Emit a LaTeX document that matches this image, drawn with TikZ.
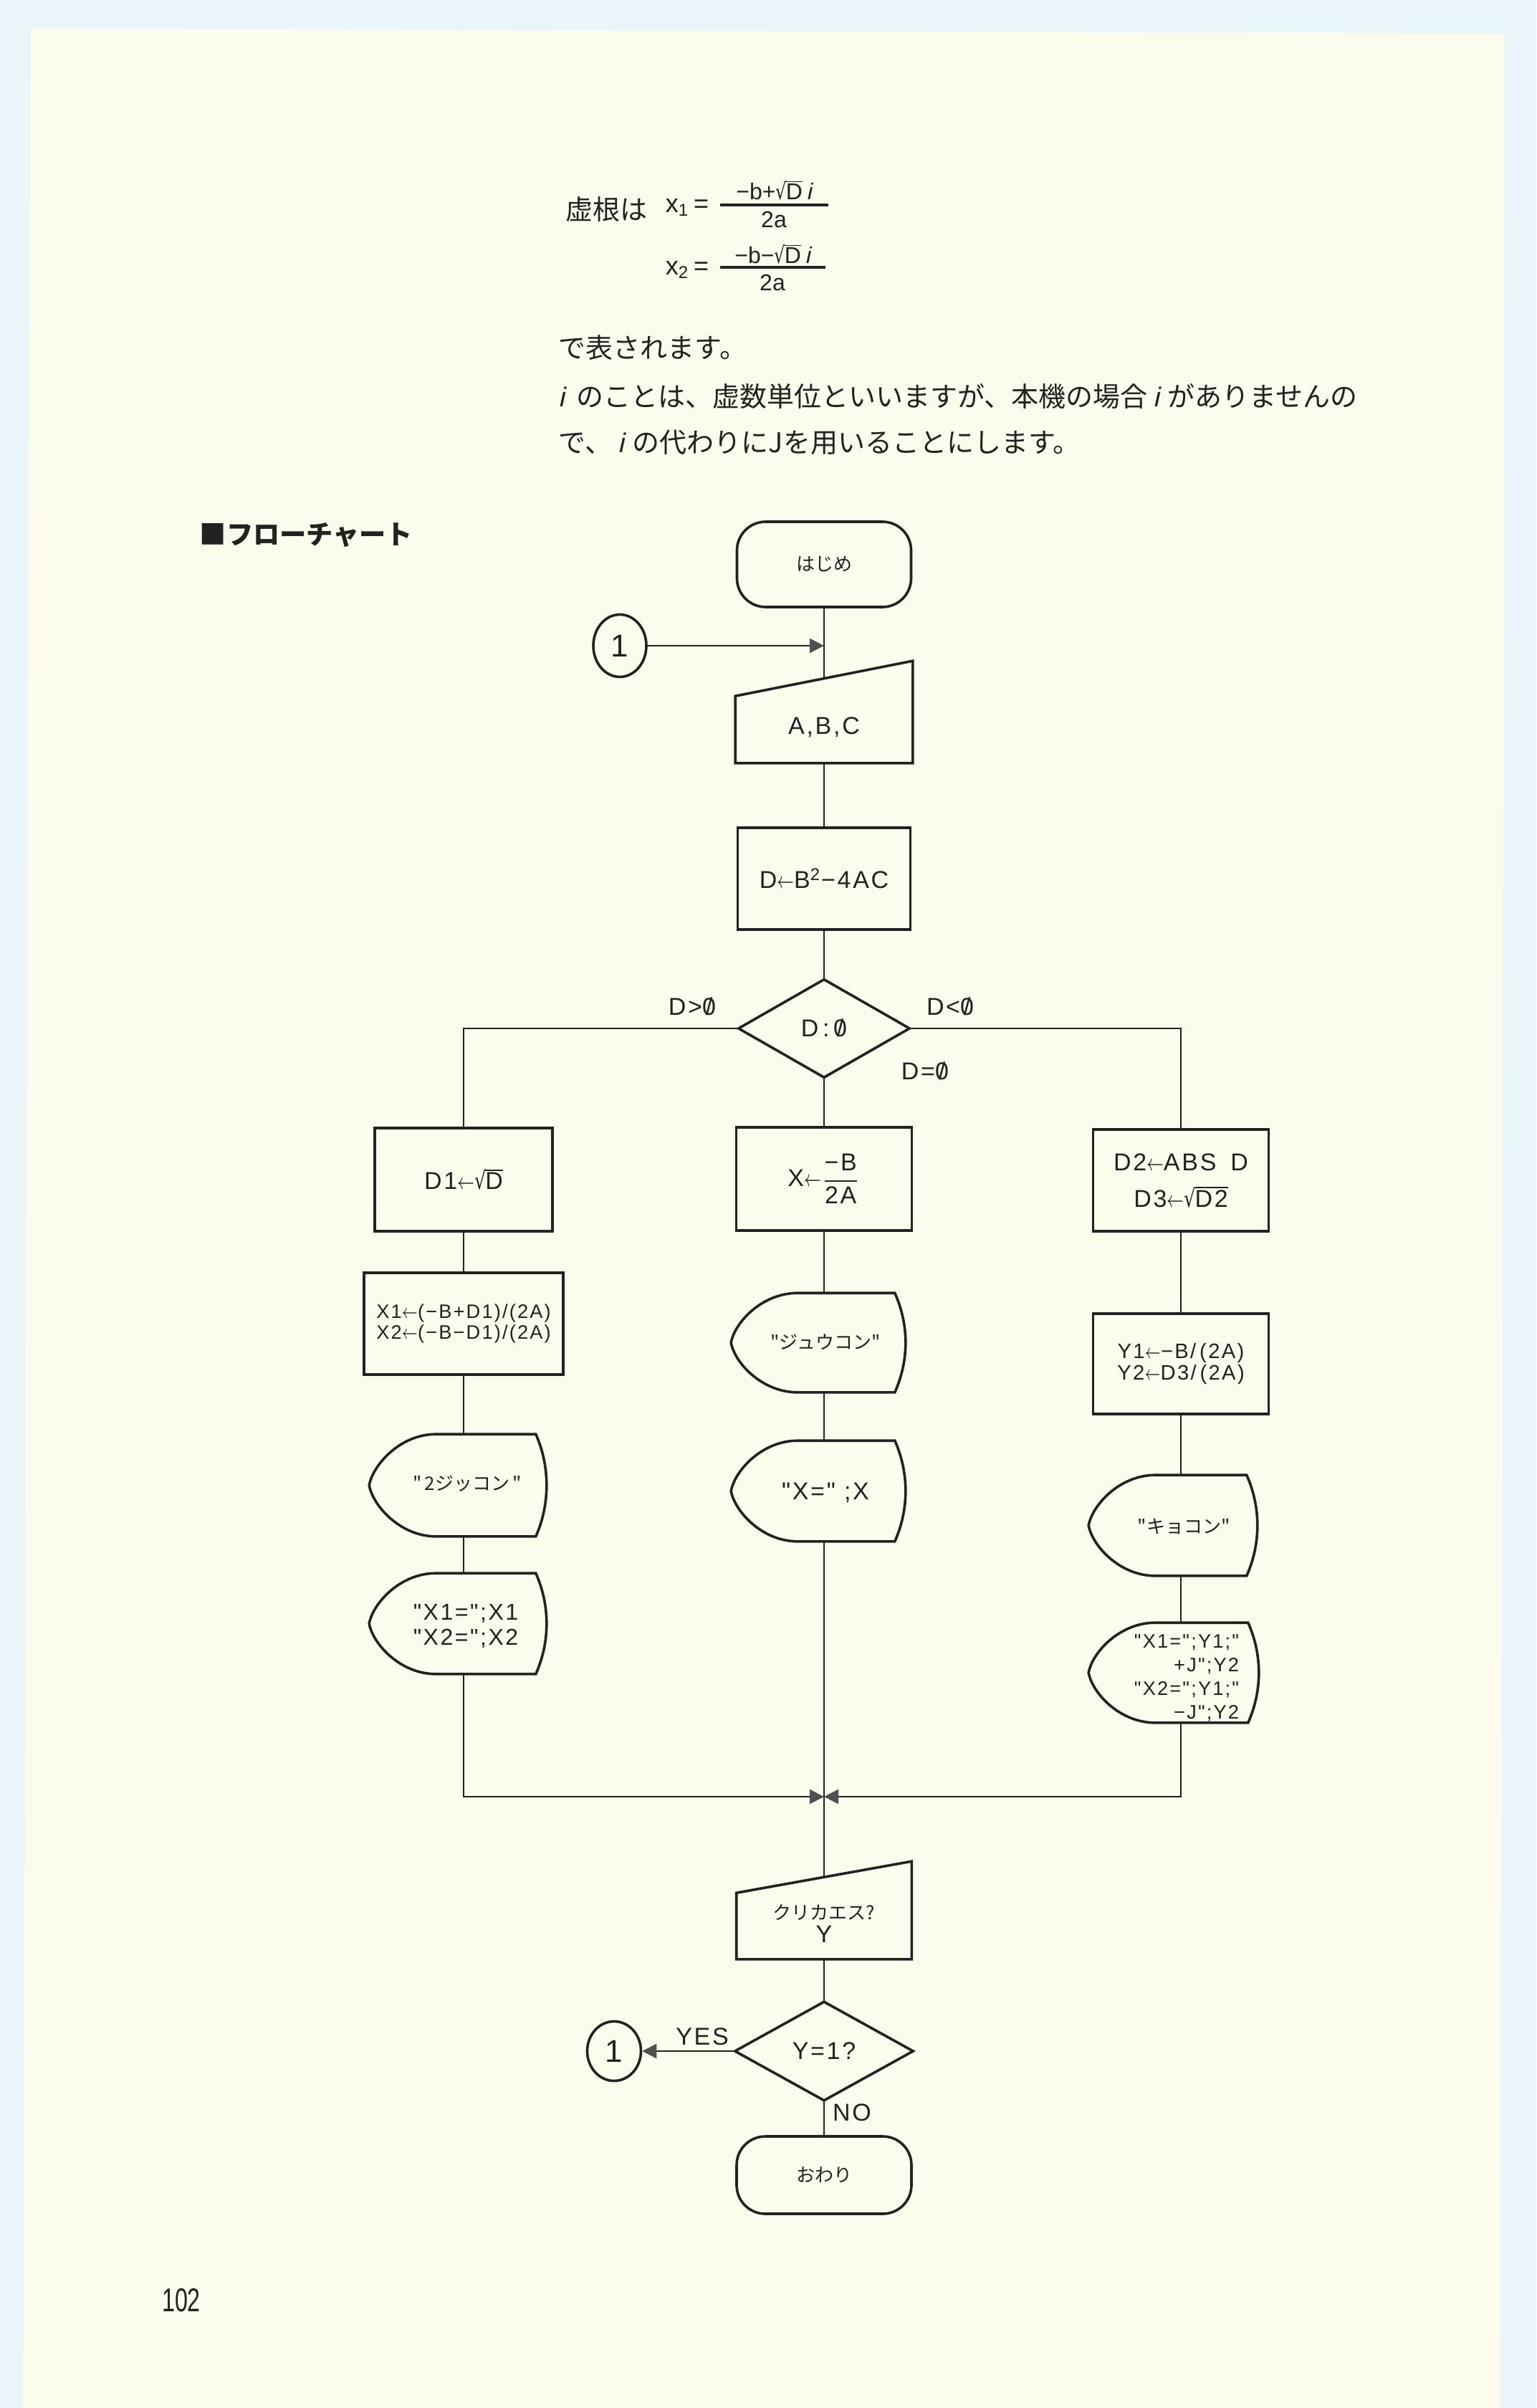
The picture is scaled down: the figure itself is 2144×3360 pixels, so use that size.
\documentclass[tikz,border=0pt]{standalone}
\usepackage{fontspec}
\usepackage{graphicx}
\setmainfont{Liberation Sans}
\newfontfamily\jpfont{Noto Sans CJK JP}
\newfontfamily\djfont{DejaVu Sans}
\newfontfamily\fcfont[LetterSpace=8]{Liberation Sans}
\newfontfamily\itsansfont[FakeSlant=0.22]{Liberation Sans}
\newfontfamily\numfont[FakeStretch=0.7]{Liberation Sans}
\usetikzlibrary{arrows.meta,calc,shapes.geometric}
\definecolor{paper}{RGB}{252,252,238}
\definecolor{scanbg}{RGB}{234,246,249}
\definecolor{ink}{RGB}{34,34,34}
\definecolor{headgray}{RGB}{80,80,80}
\newcommand\fcset[2]{\fcfont\fontsize{#1}{#2}\selectfont}
\newcommand\jpset[2]{\jpfont\fontsize{#1}{#2}\selectfont}
\newcommand\zs{{\ooalign{0\cr\hidewidth/\hidewidth\cr}}}
\newcommand\larr{\scalebox{0.7}[1]{$\leftarrow$}}
\newcommand\rt[1]{\setbox0\hbox{#1}\setbox2\hbox{\djfont\scalebox{0.75}[1]{√}}\copy2\kern-0.03em\rlap{\vrule height\ht2 depth\dimexpr0.05em-\ht2\relax width\wd0}\box0}
\newcommand\dispoutline[1]{%
  \draw[line] ($(#1.north west)+(93,0)$) -- ($(#1.north east)+(-15,0)$)
    .. controls ($(#1.north east)+(5,45)$) and ($(#1.south east)+(5,-45)$) .. ($(#1.south east)+(-15,0)$)
    -- ($(#1.south west)+(93,0)$)
    .. controls ($(#1.south west)+(43,0)$) and ($(#1.west)+(5,28)$) .. (#1.west)
    .. controls ($(#1.west)+(5,-28)$) and ($(#1.north west)+(43,0)$) .. cycle;}
\begin{document}
\begin{tikzpicture}[x=0.25pt,y=-0.25pt,
  line/.style={draw=ink,line width=0.9pt},
  conn/.style={draw=ink,line width=0.65pt},
  arr/.style={conn,-{Triangle[length=5pt,width=5pt,color=headgray]}},
  box/.style={rectangle,draw=ink,line width=0.9pt,inner sep=0pt,align=center,text=ink,font=\fcset{8.5pt}{10.5pt}},
  ghost/.style={rectangle,draw=none,inner sep=0pt,align=center,text=ink,font=\fcset{8.5pt}{10.5pt}},
  term/.style={box,rounded corners=10pt},
  lbl/.style={inner sep=0pt,text=ink,font=\fcset{8.5pt}{10.5pt}},
  connector/.style={ellipse,draw=ink,line width=0.9pt,inner sep=0pt,text=ink,font=\fontsize{11pt}{13pt}\selectfont},
  body/.style={anchor=west,inner sep=0pt,text=ink,font=\jpset{9.5pt}{11pt}},
  formula/.style={inner sep=0pt,text=ink,font=\fontsize{8pt}{9pt}\selectfont},
]
\useasboundingbox (0,0) rectangle (2144,3360);
\fill[scanbg] (0,0) rectangle (2144,3360);
\fill[paper] (42,40) -- (2100,47) -- (2093,3360) -- (32,3360) -- cycle;

% ---------- text above the chart ----------
\node[body] (t1) at (789,292) {虚根は};
\node[anchor=base west,inner sep=0pt,text=ink,font=\fontsize{9pt}{10pt}\selectfont] (x1) at (928,297) {x\textsubscript{1}\,=};
\node[formula] (n1) at (1080,266) {−b+\rt{D}\,{\itsansfont i}};
\draw[line] (1005,286) -- (1156,286);
\node[formula] (d1) at (1080,306) {2a};
\node[anchor=base west,inner sep=0pt,text=ink,font=\fontsize{9pt}{10pt}\selectfont] (x2) at (928,384) {x\textsubscript{2}\,=};
\node[formula] (n2) at (1078,355) {−b−\rt{D}\,{\itsansfont i}};
\draw[line] (1005,373) -- (1152,373);
\node[formula] (d2) at (1078,394) {2a};
\node[body] (t2) at (779,485) {で表されます。};
\node[body] (t3) at (779,553) {{\itsansfont i}\hspace{4pt}のことは、虚数単位といいますが、本機の場合\hspace{2pt}{\itsansfont i}\hspace{3pt}がありませんの};
\node[body] (t4) at (779,617) {で、\hspace{2pt}{\itsansfont i}\hspace{3pt}の代わりにJを用いることにします。};

\node[anchor=west,inner sep=0pt,text=ink,font=\jpset{9.3pt}{11pt}\bfseries] (head) at (278,747) {■フローチャート};

% ---------- flowchart ----------
\node[term,minimum width=60.75pt,minimum height=29.75pt,font=\jpset{6.5pt}{8pt}] (start) at (1150,787.5) {はじめ};
\node[connector,minimum width=18.5pt,minimum height=21.75pt] (con1) at (865,901) {1};

\node[ghost,minimum width=61.5pt,minimum height=29.125pt] (abc) at (1150,1005.75) {};
\draw[line] ($(abc.north west)+(0,24.5)$) -- ($(abc.north east)+(0,-24.5)$) -- (abc.south east) -- (abc.south west) -- cycle;
\node[lbl] (abct) at (1150,1015) {A,B,C};

\node[box,minimum width=60.25pt,minimum height=35.5pt] (calc1) at (1150,1226) {D\larr B\textsuperscript{2}−4AC};

\node[ghost,minimum width=59.25pt,minimum height=33.75pt] (dec1) at (1150,1435) {D\,:\,\zs};
\draw[line] (dec1.north) -- (dec1.east) -- (dec1.south) -- (dec1.west) -- cycle;
\node[lbl] (lgt) at (966,1405) {D>\zs};
\node[lbl] (llt) at (1326,1405) {D<\zs};
\node[lbl] (leq) at (1291,1495) {D=\zs};

\node[box,minimum width=62pt,minimum height=36pt] (calcL1) at (647,1646) {D1\larr\rt{D}};
\node[box,minimum width=61.25pt,minimum height=36pt] (calcM1) at (1150,1645) {X\larr$\displaystyle\frac{\hbox{−B}}{\hbox{2A}}$};
\node[box,minimum width=61.25pt,minimum height=35.5pt,font=\fcset{8.5pt}{12.75pt}] (calcR1) at (1648,1647) {D2\larr ABS\hspace{5pt}D\\D3\larr\rt{D2}};
\node[box,minimum width=69.5pt,minimum height=35.5pt,font=\fcset{6.8pt}{7.2pt}] (calcL2) at (647,1847) {X1\larr(−B+D1)/(2A)\\X2\larr(−B−D1)/(2A)};
\node[box,minimum width=61.25pt,minimum height=35pt,font=\fcset{7.3pt}{7.6pt}] (calcR2) at (1648,1903) {Y1\larr−B/\,(2A)\\Y2\larr D3/\,(2A)};

% display symbols
\node[ghost,minimum width=61.5pt,minimum height=35.25pt] (disp1) at (639,2072.5) {};
\dispoutline{disp1}
\node[lbl,font=\jpset{6.5pt}{8pt}] (disp1t) at (652,2070) {"\,2ジッコン\,"};
\node[ghost,minimum width=61.5pt,minimum height=34.75pt] (disp2) at (639,2265.5) {};
\dispoutline{disp2}
\node[lbl,align=center,font=\fcset{8pt}{8.75pt}] (disp2t) at (650,2269) {"X1=";X1\\"X2=";X2};
\node[ghost,minimum width=60.5pt,minimum height=34.25pt] (disp3) at (1142,1873.5) {};
\dispoutline{disp3}
\node[lbl,font=\jpset{6.5pt}{8pt}] (disp3t) at (1152,1873) {"ジュウコン"};
\node[ghost,minimum width=60.5pt,minimum height=34.75pt] (disp4) at (1142,2080.5) {};
\dispoutline{disp4}
\node[lbl] (disp4t) at (1152,2083) {"X=" ;X};
\node[ghost,minimum width=58.5pt,minimum height=34.75pt] (disp5) at (1637,2128.5) {};
\dispoutline{disp5}
\node[lbl,font=\jpset{6.5pt}{8pt}] (disp5t) at (1652,2130) {"キョコン"};
\node[ghost,minimum width=59pt,minimum height=34.5pt] (disp6) at (1638,2334) {};
\dispoutline{disp6}
\node[lbl,align=right,font=\fcset{6.8pt}{8.25pt}] (disp6t) at (1656,2341) {"X1=";Y1;"\\+J";Y2\\"X2=";Y1;"\\−J";Y2};

\coordinate (merge) at (1150,2507);

\node[ghost,minimum width=60.75pt,minimum height=28.25pt] (rep) at (1150,2676.5) {};
\draw[line] ($(rep.north west)+(0,22)$) -- ($(rep.north east)+(0,-22)$) -- (rep.south east) -- (rep.south west) -- cycle;
\node[lbl,align=center,font=\jpset{6.5pt}{7.5pt}] (rept) at (1150,2684) {クリカエス?\\[0.6pt]{\fcset{8.5pt}{7.5pt}Y}};

\node[ghost,minimum width=61.75pt,minimum height=34pt] (dec2) at (1150,2862) {Y=1?};
\draw[line] (dec2.north) -- (dec2.east) -- (dec2.south) -- (dec2.west) -- cycle;
\node[connector,minimum width=18.75pt,minimum height=20.75pt] (con2) at (857,2862) {1};
\node[lbl] (yes) at (980,2842) {YES};
\node[lbl] (no) at (1189,2948) {NO};

\node[term,minimum width=61pt,minimum height=27pt,font=\jpset{6.5pt}{8pt}] (end) at (1150,3035) {おわり};

% ---------- connectors ----------
\draw[conn] (start.south) -- (abc.north);
\draw[arr] (con1.east) -- (con1.east -| abc.north);
\draw[conn] (abc.south) -- (calc1.north);
\draw[conn] (calc1.south) -- (dec1.north);
\draw[conn] (dec1.west) -| (calcL1.north);
\draw[conn] (dec1.east) -| (calcR1.north);
\draw[conn] (dec1.south) -- (calcM1.north);
\draw[conn] (calcL1.south) -- (calcL2.north);
\draw[conn] (calcL2.south) -- (calcL2.south |- disp1.north);
\draw[conn] (calcL2.south |- disp1.south) -- (calcL2.south |- disp2.north);
\draw[arr] (calcL2.south |- disp2.south) |- (merge);
\draw[conn] (calcM1.south) -- (calcM1.south |- disp3.north);
\draw[conn] (calcM1.south |- disp3.south) -- (calcM1.south |- disp4.north);
\draw[conn] (calcM1.south |- disp4.south) -- (rep.north);
\draw[conn] (calcR1.south) -- (calcR2.north);
\draw[conn] (calcR2.south) -- (calcR2.south |- disp5.north);
\draw[conn] (calcR2.south |- disp5.south) -- (calcR2.south |- disp6.north);
\draw[arr] (calcR2.south |- disp6.south) |- (merge);
\draw[conn] (rep.south) -- (dec2.north);
\draw[arr] (dec2.west) -- (con2.east);
\draw[conn] (dec2.south) -- (end.north);

\node[inner sep=0pt,text=ink,font=\numfont\fontsize{11.5pt}{12pt}\selectfont] (pnum) at (253,3210) {102};
\end{tikzpicture}
\end{document}
